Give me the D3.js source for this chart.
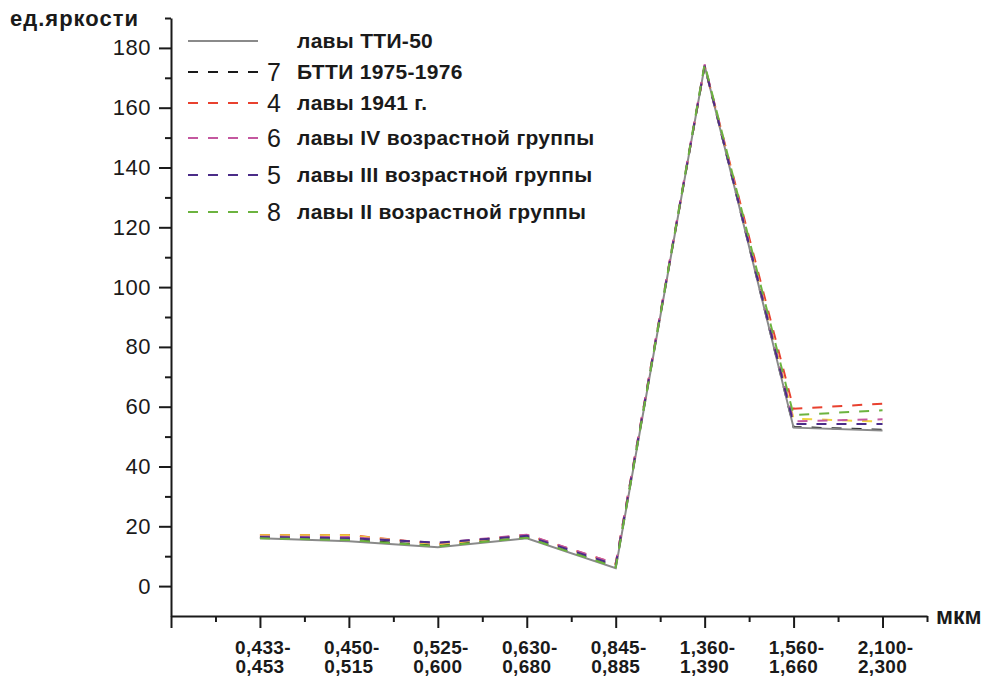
<!DOCTYPE html>
<html lang="ru">

<head>
    <meta charset="UTF-8">
    <title>Яркость лав по спектральным каналам</title>
    <script src="https://d3js.org/d3.v7.min.js"></script>
    <style>
        body {
            margin: 0;
            background: #fff;
        }

        text {
            font-family: "Liberation Sans", Arial, sans-serif;
            fill: #1a1a1a;
        }
    </style>
</head>

<body>
    <div class="chart-container"></div>
    <script>
        // DATA
        const bandsTop = ["0,433-", "0,450-", "0,525-", "0,630-", "0,845-", "1,360-", "1,560-", "2,100-"];
        const bandsBottom = ["0,453", "0,515", "0,600", "0,680", "0,885", "1,390", "1,660", "2,300"];

        const yTicks = [0, 20, 40, 60, 80, 100, 120, 140, 160, 180];

        const tti50 = [16, 15, 13, 16, 6, 174, 53, 52];
        const btti = [16.2, 15.5, 13.5, 16.2, 6.4, 174, 53.2, 52.3];
        const lava1941 = [17.1, 17.1, 14, 17.1, 7.5, 174, 59.3, 61];
        const lavaIV = [16.6, 16.4, 14.4, 17.2, 7.5, 174.5, 55.1, 55.8];
        const lavaIII = [16.4, 16, 14.5, 16.8, 7, 174, 54.2, 54.2];
        const lavaII = [16, 15.4, 13.3, 16.2, 6.3, 174.6, 57.2, 58.8];
        const unlabeled = [17, 17, 14, 17, 7.3, 174, 56, 55];

        const legendNames = ["лавы ТТИ-50", "БТТИ 1975-1976", "лавы 1941 г.",
            "лавы IV возрастной группы", "лавы III возрастной группы", "лавы II возрастной группы"];
        const legendNums = ["", "7", "4", "6", "5", "8"];

        // series table, drawing order (last on top)
        const series = [
            { values: btti, color: "#1a1a1a", dash: "10,10", legend: 1 },
            { values: tti50, color: "#8a8a8a", dash: null, legend: 0 },
            { values: lava1941, color: "#e8412f", dash: "10,10", legend: 2 },
            { values: unlabeled, color: "#eed341", dash: "10,10", legend: -1 },
            { values: lavaIV, color: "#c4579f", dash: "10,10", legend: 3 },
            { values: lavaIII, color: "#4b2c88", dash: "10,10", legend: 4 },
            { values: lavaII, color: "#6cb33f", dash: "10,10", legend: 5 }
        ];

        const w = 989;
        const h = 677;

        const svg = d3.select(".chart-container")
            .append("svg")
            .attr("width", w)
            .attr("height", h);

        // SCALES
        const x = d3.scaleLinear()
            .domain([0, 8.5])
            .range([171, 927]);

        const y = d3.scaleLinear()
            .domain([-10, 190])
            .range([616, 18]);

        // Y AXIS
        const yMinor = d3.range(10, 191, 20);

        svg.append("g")
            .attr("class", "y-minor")
            .attr("transform", "translate(" + x(0) + ",0)")
            .call(d3.axisLeft(y).tickValues(yMinor).tickSize(6).tickSizeOuter(0).tickFormat(""))
            .call(g => g.select(".domain").remove());

        const yAxis = svg.append("g")
            .attr("class", "y-axis")
            .attr("transform", "translate(" + x(0) + ",0)")
            .call(d3.axisLeft(y).tickValues(yTicks).tickSize(12).tickSizeOuter(0).tickPadding(8));

        yAxis.selectAll("text")
            .style("font-size", "22px")
            .style("letter-spacing", "0.5px");

        // X AXIS
        svg.append("g")
            .attr("class", "x-axis")
            .attr("transform", "translate(0," + y(-10) + ")")
            .call(d3.axisBottom(x).tickValues(d3.range(0, 9)).tickSize(12).tickSizeOuter(0).tickFormat(""));

        svg.append("g")
            .attr("class", "x-minor")
            .attr("transform", "translate(0," + y(-10) + ")")
            .call(d3.axisBottom(x).tickValues(d3.range(0.5, 9, 1)).tickSize(6).tickSizeOuter(0).tickFormat(""))
            .call(g => g.select(".domain").remove());

        svg.selectAll(".tick line, .domain")
            .attr("stroke", "#1a1a1a")
            .attr("stroke-width", 2);

        const xLabels = svg.append("g")
            .attr("class", "x-labels")
            .selectAll("text")
            .data(bandsTop)
            .enter()
            .append("text")
            .attr("text-anchor", "middle")
            .attr("font-weight", "bold")
            .style("font-size", "19px")
            .style("letter-spacing", "0.3px");

        xLabels.append("tspan")
            .attr("x", (d, i) => x(i + 1) + 3)
            .attr("y", 654)
            .text(d => d);

        xLabels.append("tspan")
            .attr("x", (d, i) => x(i + 1))
            .attr("y", 673)
            .text((d, i) => bandsBottom[i]);

        // AXIS TITLES
        svg.append("text")
            .attr("x", 10)
            .attr("y", 26)
            .attr("font-weight", "bold")
            .style("font-size", "22px")
            .style("letter-spacing", "1px")
            .text("ед.яркости");

        svg.append("text")
            .attr("x", 936)
            .attr("y", 624)
            .attr("font-weight", "bold")
            .style("font-size", "23px")
            .text("мкм");

        // LINES
        const line = d3.line()
            .x((d, i) => x(i + 1))
            .y(d => y(d));

        svg.append("g")
            .attr("class", "lines")
            .selectAll("path")
            .data(series)
            .enter()
            .append("path")
            .attr("fill", "none")
            .attr("stroke", d => d.color)
            .attr("stroke-width", 2)
            .attr("stroke-dasharray", d => d.dash)
            .attr("d", d => line(d.values));

        // LEGEND
        const legendRows = [41, 72, 103, 138, 175, 212];

        const legend = svg.append("g")
            .attr("class", "legend")
            .selectAll("g")
            .data(series.filter(d => d.legend >= 0))
            .enter()
            .append("g")
            .attr("transform", d => "translate(0," + legendRows[d.legend] + ")");

        legend.append("line")
            .attr("x1", 188)
            .attr("x2", 258)
            .attr("stroke", d => d.color)
            .attr("stroke-width", 2)
            .attr("stroke-dasharray", d => d.dash);

        legend.append("text")
            .attr("x", 267)
            .attr("y", 9)
            .style("font-size", "25px")
            .text(d => legendNums[d.legend]);

        legend.append("text")
            .attr("x", 297)
            .attr("y", 7)
            .attr("font-weight", "bold")
            .style("font-size", "21px")
            .style("letter-spacing", "0.3px")
            .text(d => legendNames[d.legend]);
    </script>
</body>

</html>
